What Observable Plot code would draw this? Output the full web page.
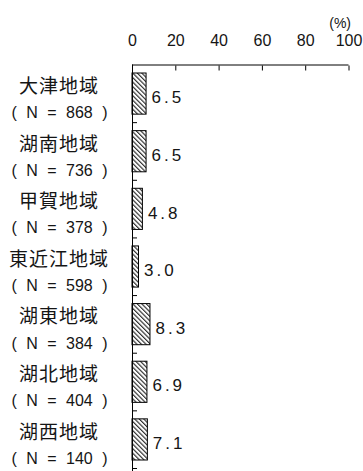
<!DOCTYPE html>
<html>
<head>
<meta charset="utf-8">
<script src="https://cdn.jsdelivr.net/npm/d3@7"></script>
<script src="https://cdn.jsdelivr.net/npm/@observablehq/plot@0.6"></script>
<style>
  body { margin: 0; background: #fff; }
</style>
</head>
<body>
<div id="chart"></div>
<script>
// Regions, sample sizes and share (%) for each region
const regions = ["大津地域", "湖南地域", "甲賀地域", "東近江地域", "湖東地域", "湖北地域", "湖西地域"];
const sampleSizes = [868, 736, 378, 598, 384, 404, 140];
const shares = [6.5, 6.5, 4.8, 3.0, 8.3, 6.9, 7.1];
const xTicks = [0, 20, 40, 60, 80, 100];

const rows = regions.map((region, i) => ({region, n: sampleSizes[i], share: shares[i], i}));
const boundaries = d3.range(1, regions.length + 1);
const nLabel = d => `( N = ${d.n} )`;
const shareLabel = d => d.share.toFixed(1);

const latin = "'Liberation Sans', Arial, sans-serif";
const cjk = "'Noto Sans CJK JP', sans-serif";
const ink = "#151515";

const chart = Plot.plot({
  width: 363,
  height: 471,
  marginLeft: 132,
  marginRight: 14.5,
  marginTop: 64.5,
  marginBottom: 3,
  style: {fontFamily: latin, background: "white", color: "black", overflow: "visible"},
  x: {domain: [0, 100], axis: null},
  y: {domain: [0, regions.length], reverse: true, axis: null},
  marks: [
    // hatched bars
    Plot.rect(rows, {
      x1: 0, x2: "share", y1: "i", y2: d => d.i + 1,
      insetTop: 8.5, insetBottom: 8,
      fill: "url(#hatch)", stroke: "black", strokeWidth: 1
    }),
    // axis lines
    Plot.ruleY([0], {stroke: "black"}),
    Plot.ruleX([0], {stroke: "black", insetBottom: -3}),
    // top percentage axis with inward ticks
    Plot.axisX({anchor: "top", ticks: xTicks, tickSize: -5, tickPadding: 24, fontSize: 16, stroke: "black", fill: ink, label: null}),
    // boundary ticks between regions
    Plot.axisY({anchor: "left", ticks: boundaries, tickSize: -5, tickFormat: () => "", stroke: "black", label: null}),
    // region names and sample sizes
    Plot.text(rows, {
      x: 0, y: d => d.i + 0.5, text: "region", dx: -73.5, dy: -7,
      fontSize: 19, fontFamily: cjk, fill: ink
    }),
    Plot.text(rows, {
      x: 0, y: d => d.i + 0.5, text: nLabel, dx: -73, dy: 19,
      fontSize: 16, fill: ink
    }),
    // value labels
    Plot.text(rows, {
      x: "share", y: d => d.i + 0.5, text: shareLabel, dx: 5, dy: 4,
      textAnchor: "start", fontSize: 17, fill: ink
    }),
    // unit
    Plot.text(["(%)"], {x: 100, frameAnchor: "top", dy: -46.5, dx: 2, textAnchor: "end", fontSize: 14, fill: ink})
  ]
});

// diagonal hatch fill for the bars
const svg = d3.select(chart);
const pattern = svg.insert("defs", ":first-child")
  .append("pattern")
  .attr("id", "hatch")
  .attr("patternUnits", "userSpaceOnUse")
  .attr("width", 3.2)
  .attr("height", 3.2)
  .attr("patternTransform", "rotate(-45)");
pattern.append("rect").attr("width", 3.2).attr("height", 3.2).attr("fill", "white");
pattern.append("line").attr("x1", 0.6).attr("y1", 0).attr("x2", 0.6).attr("y2", 3.2)
  .attr("stroke", "#222").attr("stroke-width", 1.1);

// spaced lettering for the row labels and values
const spacing = new Map([
  ...regions.map(r => [r, {letter: 1}]),
  ...rows.map(d => [nLabel(d), {word: 5}]),
  ...rows.map(d => [shareLabel(d), {letter: 3}])
]);
svg.selectAll("text").each(function () {
  const s = spacing.get(this.textContent);
  if (!s) return;
  if (s.letter) this.setAttribute("letter-spacing", s.letter);
  if (s.word) this.setAttribute("word-spacing", s.word);
});

document.getElementById("chart").appendChild(chart);
</script>
</body>
</html>
